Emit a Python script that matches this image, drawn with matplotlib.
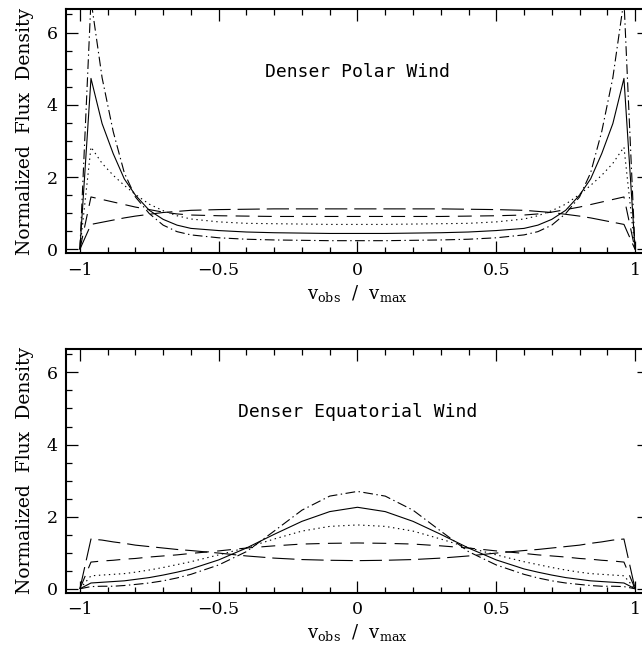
#!/usr/bin/env python3
"""Normalized line profiles for polar vs equatorial wind density."""
import matplotlib
matplotlib.use("Agg")
import matplotlib.pyplot as plt
from matplotlib.ticker import MultipleLocator

# velocity grid (v_obs / v_max)
vel = [-1.0, -0.96, -0.92, -0.88, -0.84, -0.8, -0.75, -0.7, -0.65, -0.6,
       -0.5, -0.4, -0.3, -0.2, -0.1, 0.0, 0.1, 0.2, 0.3, 0.4, 0.5,
       0.6, 0.65, 0.7, 0.75, 0.8, 0.84, 0.88, 0.92, 0.96, 1.0]

# denser polar wind
polar_solid = [0, 4.73, 3.48, 2.65, 1.95, 1.50, 1.08, 0.83, 0.67, 0.58,
               0.52, 0.48, 0.46, 0.45, 0.44, 0.44, 0.44, 0.45, 0.46, 0.48, 0.52,
               0.58, 0.67, 0.83, 1.08, 1.50, 1.95, 2.65, 3.48, 4.73, 0]
polar_dotted = [0, 2.83, 2.38, 2.05, 1.77, 1.52, 1.25, 1.07, 0.93, 0.84,
                0.76, 0.72, 0.71, 0.70, 0.69, 0.69, 0.69, 0.70, 0.71, 0.72, 0.76,
                0.84, 0.93, 1.07, 1.25, 1.52, 1.77, 2.05, 2.38, 2.83, 0]
polar_short = [0, 1.45, 1.38, 1.31, 1.24, 1.17, 1.10, 1.03, 0.98, 0.95,
               0.93, 0.92, 0.91, 0.91, 0.91, 0.91, 0.91, 0.91, 0.91, 0.92, 0.93,
               0.95, 0.98, 1.03, 1.10, 1.17, 1.24, 1.31, 1.38, 1.45, 0]
polar_long = [0, 0.69, 0.75, 0.81, 0.87, 0.92, 0.97, 1.02, 1.05, 1.08,
              1.10, 1.11, 1.12, 1.12, 1.12, 1.12, 1.12, 1.12, 1.12, 1.11, 1.10,
              1.08, 1.05, 1.02, 0.97, 0.92, 0.87, 0.81, 0.75, 0.69, 0]
polar_dashdot = [0, 6.9, 4.75, 3.26, 2.12, 1.45, 0.99, 0.67, 0.49, 0.40,
                 0.32, 0.28, 0.26, 0.25, 0.24, 0.24, 0.24, 0.25, 0.26, 0.28, 0.32,
                 0.40, 0.49, 0.67, 0.99, 1.45, 2.12, 3.26, 4.75, 6.9, 0]

# denser equatorial wind
equat_solid = [0, 0.16, 0.18, 0.20, 0.22, 0.26, 0.31, 0.38, 0.46, 0.55,
               0.80, 1.13, 1.51, 1.87, 2.14, 2.26, 2.14, 1.87, 1.51, 1.13, 0.80,
               0.55, 0.46, 0.38, 0.31, 0.26, 0.22, 0.20, 0.18, 0.16, 0]
equat_dotted = [0, 0.36, 0.38, 0.40, 0.42, 0.46, 0.52, 0.59, 0.67, 0.75,
                0.94, 1.14, 1.38, 1.60, 1.73, 1.77, 1.73, 1.60, 1.38, 1.14, 0.94,
                0.75, 0.67, 0.59, 0.52, 0.46, 0.42, 0.40, 0.38, 0.36, 0]
equat_short = [0, 0.74, 0.77, 0.79, 0.82, 0.84, 0.88, 0.91, 0.94, 0.98,
               1.05, 1.13, 1.19, 1.24, 1.26, 1.27, 1.26, 1.24, 1.19, 1.13, 1.05,
               0.98, 0.94, 0.91, 0.88, 0.84, 0.82, 0.79, 0.77, 0.74, 0]
equat_long = [0, 1.38, 1.35, 1.30, 1.26, 1.21, 1.17, 1.13, 1.09, 1.06,
              0.99, 0.91, 0.85, 0.81, 0.79, 0.78, 0.79, 0.81, 0.85, 0.91, 0.99,
              1.06, 1.09, 1.13, 1.17, 1.21, 1.26, 1.30, 1.35, 1.38, 0]
equat_dashdot = [0, 0.06, 0.07, 0.07, 0.09, 0.12, 0.16, 0.22, 0.30, 0.40,
                 0.66, 1.03, 1.60, 2.18, 2.57, 2.70, 2.57, 2.18, 1.60, 1.03, 0.66,
                 0.40, 0.30, 0.22, 0.16, 0.12, 0.09, 0.07, 0.07, 0.06, 0]

TITLES = ["Denser Polar Wind", "Denser Equatorial Wind"]

# dash patterns in points (not scaled by linewidth)
STYLES = {
    "solid": (0, ()),
    "dotted": (0, (1.0, 2.6)),
    "short": (0, (10, 6)),
    "long": (0, (16, 5)),
    "dashdot": (0, (7, 2.5, 1, 2.5)),
}


def tick_fmt(v, _):
    if abs(v) < 1e-9:
        return "0"
    return f"{v:g}".replace("-", "\u2212")


def draw_panel(ax, series, title):
    for name, ys in series:
        ax.plot(vel, ys, color="black", lw=0.8, linestyle=STYLES[name])
    ax.set_xlim(-1.05, 1.05)
    ax.set_ylim(-0.11, 6.65)
    ax.xaxis.set_major_locator(MultipleLocator(0.5))
    ax.xaxis.set_minor_locator(MultipleLocator(0.1))
    ax.yaxis.set_major_locator(MultipleLocator(2))
    ax.yaxis.set_minor_locator(MultipleLocator(0.5))
    ax.xaxis.set_major_formatter(plt.FuncFormatter(tick_fmt))
    ax.tick_params(which="both", direction="in", top=True, right=True,
                   width=0.9, labelsize=12.5)
    ax.tick_params(which="major", length=8.5, pad=6)
    ax.tick_params(which="minor", length=4)
    for sp in ax.spines.values():
        sp.set_linewidth(1.5)
    ax.set_ylabel("Normalized  Flux  Density", fontsize=13.5, labelpad=9)
    ax.set_xlabel(r"$\mathrm{v_{obs}\ \ /\ \ v_{max}}$", fontsize=13, labelpad=3)
    ax.text(0.0, 4.9, title, ha="center", va="center",
            family="DejaVu Sans Mono", fontsize=13)


def main():
    plt.rcParams["font.family"] = "DejaVu Serif"
    plt.rcParams["mathtext.fontset"] = "dejavuserif"
    plt.rcParams["lines.scale_dashes"] = False

    fig = plt.figure(figsize=(6.42, 6.58), dpi=100)
    ax1 = fig.add_axes([0.1028, 0.615, 0.908, 0.3713])
    ax2 = fig.add_axes([0.1028, 0.0992, 0.908, 0.3704])

    draw_panel(ax1, [("long", polar_long), ("short", polar_short),
                     ("dotted", polar_dotted), ("solid", polar_solid),
                     ("dashdot", polar_dashdot)], TITLES[0])
    draw_panel(ax2, [("long", equat_long), ("short", equat_short),
                     ("dotted", equat_dotted), ("solid", equat_solid),
                     ("dashdot", equat_dashdot)], TITLES[1])

    fig.savefig("out.png", dpi=100)
    plt.close(fig)


if __name__ == "__main__":
    main()
